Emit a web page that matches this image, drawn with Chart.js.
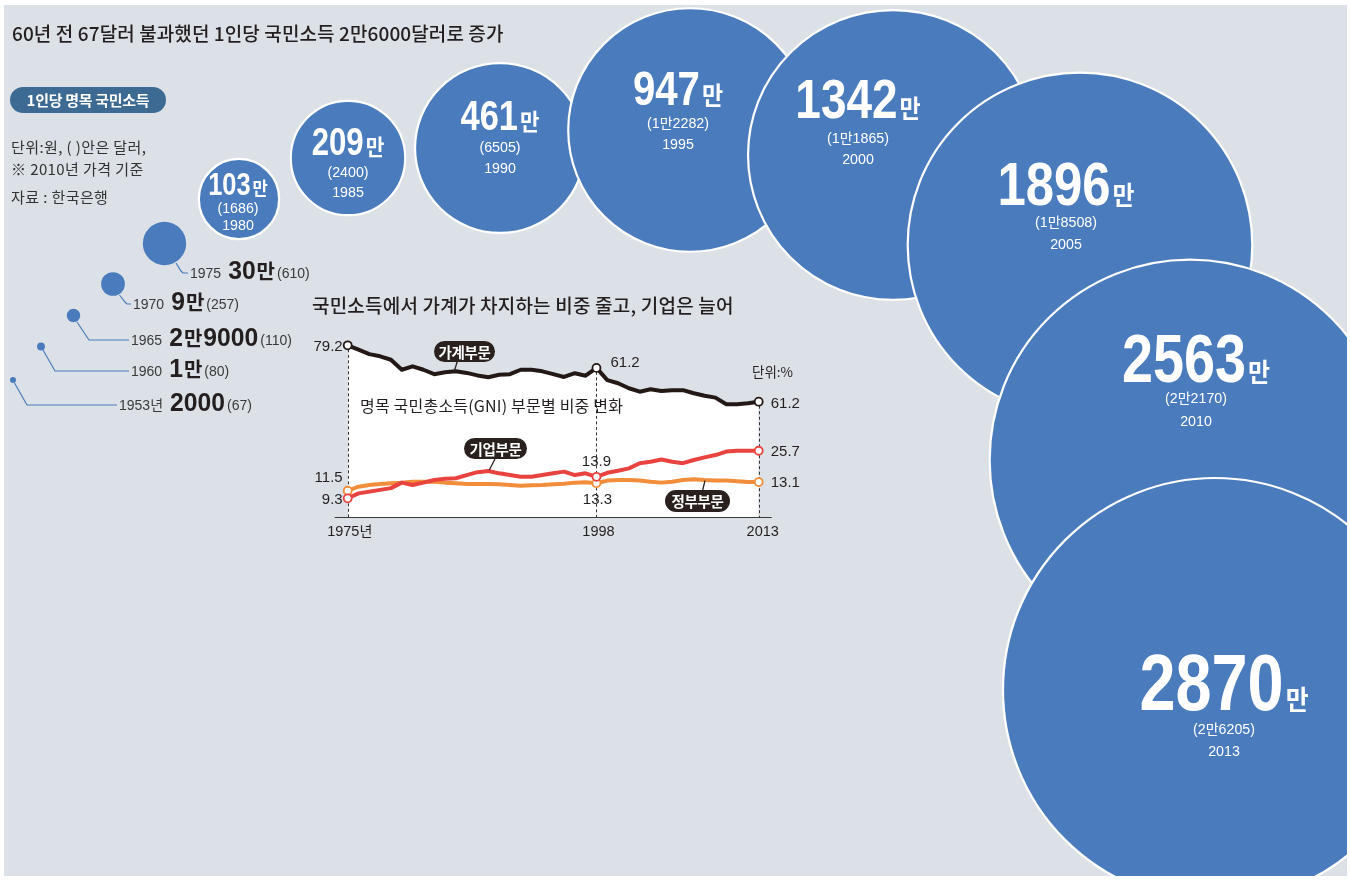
<!DOCTYPE html>
<html><head><meta charset="utf-8">
<script src="https://cdn.jsdelivr.net/npm/chart.js@4.4.1/dist/chart.umd.min.js"></script>
<style>
html,body{margin:0;padding:0;background:#fff;width:1350px;height:885px;overflow:hidden;}
#bg{position:absolute;left:4px;top:5px;width:1343px;height:871px;background:#dce1e7;overflow:hidden;}
#bubbles{position:absolute;left:-4px;top:-5px;width:1350px;height:885px;}
#lines{position:absolute;left:0;top:0;width:1350px;height:885px;}
.t{position:absolute;font-family:'Noto Sans CJK KR';color:#231f20;white-space:nowrap;}
.pill{position:absolute;background:#2a201d;color:#fff;font-family:'Noto Sans CJK KR';font-weight:700;font-size:14.5px;text-align:center;border-radius:11px;letter-spacing:-0.3px;}
</style></head><body>
<div id="bg"><canvas id="bubbles" width="1350" height="885"></canvas></div>
<canvas id="lines" width="1350" height="885"></canvas>

<div class="t" style="left:12px;top:21px;height:24px;line-height:24px;font-size:19px;font-weight:500;letter-spacing:0.1px;">60년 전 67달러 불과했던 1인당 국민소득 2만6000달러로 증가</div>
<div class="t" style="left:10px;top:87px;width:156px;height:26px;line-height:26px;font-size:15px;font-weight:700;color:#fff;background:#3d6a92;border-radius:13px;text-align:center;letter-spacing:-0.3px;">1인당 명목 국민소득</div>
<div class="t" style="left:11px;top:137px;height:20px;line-height:20px;font-size:15px;color:#333;letter-spacing:0.4px;">단위:원, ( )안은 달러,</div>
<div class="t" style="left:11px;top:159px;height:20px;line-height:20px;font-size:15px;color:#333;letter-spacing:0.4px;">※ 2010년 가격 기준</div>
<div class="t" style="left:11px;top:187px;height:20px;line-height:20px;font-size:15px;color:#333;letter-spacing:0.4px;">자료 : 한국은행</div>
<div class="t" style="left:312px;top:293px;height:24px;line-height:24px;font-size:19px;font-weight:500;letter-spacing:0.2px;">국민소득에서 가계가 차지하는 비중 줄고, 기업은 늘어</div>
<div class="t" style="left:360px;top:395px;height:20px;line-height:20px;font-size:16px;color:#231f20;letter-spacing:0.2px;">명목 국민총소득(GNI) 부문별 비중 변화</div>
<div class="t" style="left:752px;top:362px;height:18px;line-height:18px;font-size:13.5px;color:#231f20;">단위:%</div>
<div class="pill" style="left:434px;top:341px;width:61px;height:21px;line-height:21px;">가계부문</div>
<div class="pill" style="left:464px;top:438px;width:63px;height:21px;line-height:21px;">기업부문</div>
<div class="pill" style="left:665px;top:490px;width:65px;height:22px;line-height:22px;">정부부문</div>

<script>
// ===== DATA =====
// 1인당 명목 국민소득 (만원 단위 값, 표기 라벨)
const bubbleYears = ['1953년','1960','1965','1970','1975','1980','1985','1990','1995','2000','2005','2010','2013'];
const incomeManWon = [0.2, 1, 2.9, 9, 30, 103, 209, 461, 947, 1342, 1896, 2563, 2870];
const incomeWonLabels = ['2000','1만','2만9000','9만','30만','103만','209만','461만','947만','1342만','1896만','2563만','2870만'];
const incomeUsdLabels = ['(67)','(80)','(110)','(257)','(610)','(1686)','(2400)','(6505)','(1만2282)','(1만1865)','(1만8508)','(2만2170)','(2만6205)'];

// 명목 GNI 부문별 비중 (%)
const shareYears = ['1975','1976','1977','1978','1979','1980','1981','1982','1983','1984','1985','1986','1987','1988','1989','1990','1991','1992','1993','1994','1995','1996','1997','1998','1999','2000','2001','2002','2003','2004','2005','2006','2007','2008','2009','2010','2011','2012','2013'];
const household = [79.2,77.8,76.4,75.7,74.6,71.4,72.5,71.4,70.0,70.6,70.9,70.4,69.6,69.0,69.8,70.0,71.4,71.4,70.9,70.0,69.1,70.3,69.5,72.0,68.1,67.1,65.5,64.4,65.2,64.6,64.9,64.9,63.9,63.1,62.5,60.4,60.4,60.7,61.2];
const corporate = [9.3,11.0,11.6,12.2,12.8,14.7,13.9,14.7,15.6,16.0,16.2,17.3,18.3,18.7,17.9,17.3,16.7,16.7,17.3,17.9,18.5,17.3,17.9,16.7,18.1,18.8,19.6,21.4,21.9,22.7,21.9,21.4,22.5,23.4,24.2,25.4,25.7,25.7,25.7];
const government = [11.9,13.3,13.9,14.2,14.5,14.7,15.0,15.0,15.0,14.7,14.5,14.2,14.2,14.2,14.1,13.9,13.6,13.8,13.9,14.1,14.3,14.7,14.8,14.5,15.4,15.6,15.6,15.4,15.0,14.7,15.0,15.6,15.9,15.6,15.4,15.4,15.2,14.9,14.9];
const markIndex = [0, 23, 38];
const householdMarks = ['79.2','61.2','61.2'];
const corporateMarks = ['9.3','13.9','25.7'];
const governmentMarks = ['11.5','13.3','13.1'];
const axisTickLabels = ['1975년','1998','2013'];

// ===== LAYOUT (positions / styles only) =====
const BLUE = '#4a7cbd';
const R_K = 3.957;               // px radius per sqrt(만원)
const bubbleCenters = [[13,380],[41,346.5],[73.5,315.5],[113,284],[164.5,243.5],[239,199],[348,158],[500,148],[690,130],[893,155],[1080,245],[1190,460],[1215,690]];
// inner labels for 1980..2013: [dx, baseline dy, digit font, sub1 center dy, sub2 center dy, 만 font]
const innerLabelLayout = [[-1,-4,31,9,26,18],[0,-3,38,14,34,22],[0,-18,42,-1,20,23],[-12,-25,49,-7,14,25],[-35,-37,56,-17,4,25],[-14,-40,62,-23,-1,26],[6,-78,68,-62,-39,26],[9,20,79,39,61,27]];
// leader polylines for 1953..1975
const leaderLayout = [
  [[14.5,383],[27,405],[117,405]],
  [[43,350],[55,371],[129,371]],
  [[77,322],[89,340],[129,340]],
  [[119.5,295],[125,302],[127,304],[131,304]],
  [[176,263],[181,271],[183,273],[188,273]]
];
const markLabelLayout = {
  household: [[-5,0,'right'],[14,-6,'left'],[12,1,'left']],
  corporate: [[-5,0,'right'],[0,-16,'center'],[12,0,'left']],
  government: [[-5,-14,'right'],[1,15,'center'],[12,0,'left']]
};
const pillLeaders = [[[457.3,361.3],[454.3,371.3]],[[495,459],[489.3,470]],[[702.7,490],[705,480.7]]];

// ===== helpers =====
const HANGUL_SPLIT = /[\uac00-\ud7a3]+|[^\uac00-\ud7a3]+/g;
function drawMixed(ctx, str, x, y, o) {
  const parts = str.match(HANGUL_SPLIT) || [];
  const gap = o.gap || 0;
  const items = parts.map(t => {
    const h = /[\uac00-\ud7a3]/.test(t);
    const f = h ? o.hangul : o.latin;
    ctx.font = f.font;
    return {t, f, w: ctx.measureText(t).width * (f.sx || 1)};
  });
  const total = items.reduce((s, it) => s + it.w, 0) + gap * Math.max(0, items.length - 1);
  let cx = o.align === 'center' ? x - total / 2 : (o.align === 'right' ? x - total : x);
  ctx.save();
  ctx.fillStyle = o.color; ctx.textBaseline = 'alphabetic'; ctx.textAlign = 'left';
  items.forEach(it => {
    ctx.font = it.f.font;
    ctx.save(); ctx.translate(cx, y); ctx.scale(it.f.sx || 1, 1); ctx.fillText(it.t, 0, 0); ctx.restore();
    cx += it.w + gap;
  });
  ctx.restore();
  return total;
}
const LAT = "'Liberation Sans', Arial, sans-serif";
const KR = "'Noto Sans CJK KR', sans-serif";

// ===== bubble chart =====
const bubbleLabels = {
  id: 'bubbleLabels',
  afterDatasetsDraw(chart) {
    const ctx = chart.ctx;
    const meta = chart.getDatasetMeta(0);
    meta.data.forEach((el, i) => {
      if (i >= 5) {
        const [dx, dyB, fs, d1, d2, mf] = innerLabelLayout[i - 5];
        const x = el.x + dx;
        drawMixed(ctx, incomeWonLabels[i], x, el.y + dyB, {
          latin: {font: `bold ${fs}px ${LAT}`, sx: 0.82},
          hangul: {font: `700 ${mf}px ${KR}`, sx: 0.92},
          align: 'center', color: '#fff', gap: 2
        });
        const sub = {latin: {font: `15px ${LAT}`, sx: 0.95}, hangul: {font: `14px ${KR}`}, align: 'center', color: '#fff'};
        drawMixed(ctx, incomeUsdLabels[i], x, el.y + d1 + 5.4, sub);
        drawMixed(ctx, bubbleYears[i], x, el.y + d2 + 5.4, sub);
      } else {
        const pts = leaderLayout[i];
        ctx.save();
        ctx.strokeStyle = BLUE; ctx.lineWidth = 1.2;
        ctx.beginPath();
        pts.forEach((p, k) => k ? ctx.lineTo(p[0], p[1]) : ctx.moveTo(p[0], p[1]));
        ctx.stroke();
        ctx.restore();
        const end = pts[pts.length - 1];
        let x = end[0] + 2;
        const base = end[1] + 5;
        x += drawMixed(ctx, bubbleYears[i], x, base, {latin: {font: `14px ${LAT}`}, hangul: {font: `14px ${KR}`}, color: '#3a3a3a'}) + 7;
        x += drawMixed(ctx, incomeWonLabels[i], x, base + 1, {latin: {font: `bold 26px ${LAT}`, sx: 0.95}, hangul: {font: `bold 20px ${KR}`}, color: '#231f20', gap: 1}) + 2;
        drawMixed(ctx, incomeUsdLabels[i], x, base, {latin: {font: `14px ${LAT}`}, hangul: {font: `13px ${KR}`}, color: '#3a3a3a'});
      }
    });
  }
};

new Chart(document.getElementById('bubbles'), {
  type: 'bubble',
  data: {
    datasets: [{
      data: incomeManWon.map((v, i) => ({x: bubbleCenters[i][0], y: bubbleCenters[i][1], r: Math.max(3, R_K * Math.sqrt(v))})),
      backgroundColor: BLUE,
      borderColor: '#ffffff',
      borderWidth: ctx => (ctx.raw && ctx.raw.r > 30 ? 2.2 : 0),
      clip: false
    }]
  },
  options: {
    responsive: false, animation: false, events: [],
    layout: {padding: 0, autoPadding: false},
    scales: {
      x: {type: 'linear', min: 0, max: 1350, display: false},
      y: {type: 'linear', min: 0, max: 885, reverse: true, display: false}
    },
    plugins: {legend: {display: false}, tooltip: {enabled: false}}
  },
  plugins: [bubbleLabels]
});

// ===== line chart =====
const lineDecor = {
  id: 'lineDecor',
  beforeDatasetsDraw(chart) {
    const ctx = chart.ctx;
    const area = chart.chartArea;
    const m0 = chart.getDatasetMeta(0);
    ctx.save();
    ctx.strokeStyle = '#333'; ctx.lineWidth = 1; ctx.setLineDash([3, 2.5]);
    markIndex.forEach(idx => {
      const p = m0.data[idx];
      ctx.beginPath(); ctx.moveTo(Math.round(p.x) + 0.5, p.y + 4); ctx.lineTo(Math.round(p.x) + 0.5, area.bottom); ctx.stroke();
    });
    ctx.setLineDash([]);
    ctx.strokeStyle = '#3a3a3a'; ctx.lineWidth = 1.2;
    ctx.beginPath(); ctx.moveTo(area.left - 13, area.bottom + 0.5); ctx.lineTo(area.right + 13, area.bottom + 0.5); ctx.stroke();
    ctx.restore();
  },
  afterDatasetsDraw(chart) {
    const ctx = chart.ctx;
    const area = chart.chartArea;
    const sets = [[0, householdMarks, markLabelLayout.household], [2, corporateMarks, markLabelLayout.corporate], [1, governmentMarks, markLabelLayout.government]];
    const lf = {latin: {font: `15px ${LAT}`}, hangul: {font: `14px ${KR}`}, color: '#231f20'};
    sets.forEach(([di, labels, lay]) => {
      const meta = chart.getDatasetMeta(di);
      markIndex.forEach((idx, k) => {
        const p = meta.data[idx];
        const [dx, dy, al] = lay[k];
        drawMixed(ctx, labels[k], p.x + dx, p.y + dy + 5.4, Object.assign({align: al}, lf));
      });
    });
    const m0 = chart.getDatasetMeta(0);
    markIndex.forEach((idx, k) => {
      const p = m0.data[idx];
      drawMixed(ctx, axisTickLabels[k], p.x + (k === 2 ? 4 : 2), area.bottom + 19, Object.assign({align: 'center'}, {latin: {font: `14.5px ${LAT}`}, hangul: {font: `14px ${KR}`}, color: '#231f20'}));
    });
    ctx.save();
    ctx.strokeStyle = '#2a201d'; ctx.lineWidth = 1.3;
    pillLeaders.forEach(l => { ctx.beginPath(); ctx.moveTo(l[0][0], l[0][1]); ctx.lineTo(l[1][0], l[1][1]); ctx.stroke(); });
    ctx.restore();
  }
};

const markRadius = c => (markIndex.includes(c.dataIndex) ? 4 : 0);
new Chart(document.getElementById('lines'), {
  type: 'line',
  data: {
    labels: shareYears,
    datasets: [
      {label: '가계부문', data: household, yAxisID: 'yHigh', borderColor: '#231815', borderWidth: 4, fill: 'start', backgroundColor: '#ffffff', order: 3,
       pointRadius: markRadius, pointBackgroundColor: '#fff', pointBorderColor: '#231815', pointBorderWidth: 1.8, clip: false},
      {label: '정부부문', data: government, yAxisID: 'yLow', borderColor: '#f18d3b', borderWidth: 4, fill: false, order: 2,
       pointRadius: markRadius, pointBackgroundColor: '#fff', pointBorderColor: '#f18d3b', pointBorderWidth: 1.8, clip: false},
      {label: '기업부문', data: corporate, yAxisID: 'yLow', borderColor: '#e94340', borderWidth: 4, fill: false, order: 1,
       pointRadius: markRadius, pointBackgroundColor: '#fff', pointBorderColor: '#e94340', pointBorderWidth: 1.8, clip: false}
    ]
  },
  options: {
    responsive: false, animation: false, events: [],
    layout: {padding: {left: 347.7, right: 591.3, top: 335, bottom: 368}, autoPadding: false},
    scales: {
      x: {display: false, offset: false},
      yHigh: {type: 'linear', display: false, min: 24.4, max: 82.5},
      yLow: {type: 'linear', display: false, min: 2.85, max: 65.6}
    },
    elements: {line: {tension: 0, borderJoinStyle: 'round', borderCapStyle: 'round'}},
    plugins: {legend: {display: false}, tooltip: {enabled: false}, filler: {drawTime: 'beforeDatasetsDraw'}}
  },
  plugins: [lineDecor]
});
</script>
</body></html>
